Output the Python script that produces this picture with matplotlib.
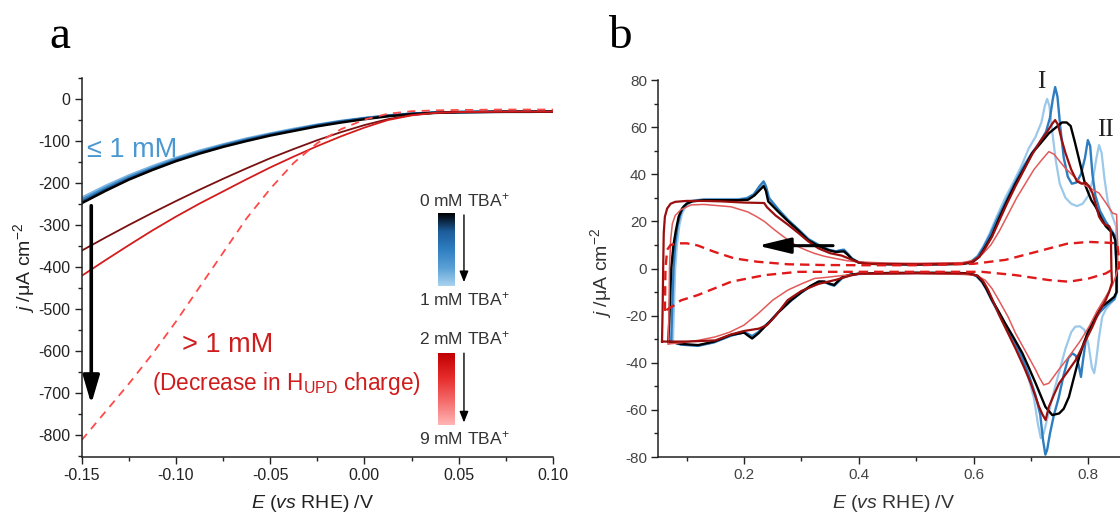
import numpy as np
import matplotlib
matplotlib.use("Agg")
import matplotlib.pyplot as plt
from matplotlib.colors import LinearSegmentedColormap
from matplotlib.ticker import MultipleLocator

plt.rcParams['font.family'] = ['Liberation Sans', 'DejaVu Sans']
plt.rcParams['mathtext.fontset'] = 'custom'
plt.rcParams['mathtext.rm'] = 'Liberation Sans'
plt.rcParams['mathtext.it'] = 'Liberation Sans:italic'
plt.rcParams['axes.unicode_minus'] = False

# ---------------- Panel a data (LSV) ----------------
E_a = [-0.15, -0.1375, -0.125, -0.1125, -0.10, -0.0875, -0.075, -0.0625, -0.05, -0.0375,
       -0.025, -0.0125, 0.0, 0.0125, 0.025, 0.0375, 0.05, 0.0625, 0.075, 0.0875, 0.10]
j_0mM = [-248, -219, -192, -169, -148, -130, -114, -100, -87, -76, -65, -56, -48, -41, -36, -33, -31.5, -31, -30.5, -30.5, -30]
j_01mM = [-245, -216, -190, -167, -146, -128, -112, -98, -85, -74, -63, -54, -46, -40, -35, -32.5, -31, -30.5, -30, -30, -30]
j_05mM = [-240, -212, -186, -164, -143, -126, -110, -96, -84, -73, -62, -53, -46, -39.5, -35, -32, -31, -30.5, -30, -30, -30]
j_1mM = [-235, -207, -182, -160, -140, -123, -108, -94, -82, -71, -61, -52, -45, -39, -34.5, -32, -31, -30.5, -30, -30, -29.5]
j_2mM = [-361, -330, -300, -271, -243, -216, -190, -165, -141, -119, -98, -79, -62, -48, -38, -33, -31, -30.5, -30, -30, -30]
j_5mM = [-421, -384, -348, -313, -280, -249, -220, -191, -163, -137, -112, -89, -68, -50, -39, -33, -31, -30.5, -30, -30, -30]
j_9mM = [-812, -745, -678, -607, -530, -448, -366, -284, -214, -152, -105, -72, -49, -35, -29, -27, -26, -25.5, -25, -25, -25]

# ---------------- Panel b data (CV) ----------------
E_b0 = [0.068, 0.070, 0.073, 0.077, 0.081, 0.086, 0.092, 0.100, 0.110, 0.13, 0.16, 0.19, 0.207, 0.218, 0.228, 0.234, 0.238,
        0.242, 0.26, 0.277, 0.295, 0.312, 0.33, 0.347, 0.36, 0.368, 0.374, 0.38, 0.388, 0.40, 0.42, 0.45, 0.50, 0.55, 0.58,
        0.597, 0.61, 0.62, 0.632, 0.644, 0.658, 0.673, 0.688, 0.702, 0.716, 0.731, 0.744, 0.754, 0.762, 0.769, 0.776, 0.784,
        0.795, 0.805, 0.813, 0.822, 0.830, 0.842, 0.847, 0.849, 0.849,
        0.845, 0.835, 0.824, 0.812, 0.801, 0.792, 0.784, 0.775, 0.766, 0.757, 0.749, 0.737, 0.725, 0.708, 0.696, 0.685, 0.670,
        0.655, 0.643, 0.632, 0.622, 0.615, 0.605, 0.59, 0.55, 0.50, 0.45, 0.40, 0.385, 0.372, 0.365, 0.357, 0.35, 0.34, 0.33,
        0.315, 0.30, 0.282, 0.26, 0.245, 0.236, 0.225, 0.214, 0.207, 0.20, 0.177, 0.148, 0.12, 0.09, 0.068]
j_b0 = [-31, -20, 0, 10, 16, 22, 25.5, 27.5, 28.5, 29, 29, 29, 29.2, 31, 33.5, 35, 33,
        28.5, 24, 20, 16, 12, 9.5, 7.8, 7, 7.2, 7.3, 6, 4, 2.5, 2, 1.8, 1.7, 1.8, 2,
        2.5, 5, 9, 14, 21, 28.5, 36, 42.5, 49, 53, 57.4, 60, 62, 62, 60.5, 54, 46,
        35, 29, 26, 21.5, 18, 15, 12, 0, -10,
        -12, -14, -16, -20.5, -26, -31.5, -37.5, -46, -54.5, -59.5, -61.5, -62.2, -58.7, -48.7, -42, -36, -29.5,
        -23.3, -18, -13.4, -8.5, -5.6, -3, -2, -1.8, -1.8, -1.9, -2.2, -2.6, -3.5, -5, -7, -6.5, -5.5, -5.5,
        -7.5, -10, -13.4, -18.5, -22.5, -24.7, -27.5, -29.7, -28.5, -27.2, -28.2, -31, -32.5, -32, -31]

E_b1 = [0.073, 0.075, 0.077, 0.080, 0.084, 0.089, 0.095, 0.105, 0.13, 0.16, 0.19, 0.205, 0.217, 0.227, 0.234, 0.238, 0.243,
        0.26, 0.277, 0.295, 0.312, 0.33, 0.347, 0.36, 0.368, 0.374, 0.38, 0.388, 0.40, 0.42, 0.5, 0.58, 0.595, 0.607, 0.617,
        0.628, 0.64, 0.655, 0.67, 0.685, 0.70, 0.715, 0.726, 0.733, 0.738, 0.742, 0.746, 0.751, 0.757, 0.764, 0.771, 0.779,
        0.787, 0.794, 0.799, 0.803, 0.807, 0.812, 0.82, 0.83, 0.838, 0.846, 0.849, 0.849,
        0.845, 0.832, 0.82, 0.81, 0.80, 0.795, 0.79, 0.787, 0.783, 0.778, 0.772, 0.765, 0.757, 0.748, 0.74, 0.733, 0.728,
        0.725, 0.721, 0.716, 0.708, 0.696, 0.685, 0.670, 0.655, 0.643, 0.632, 0.622, 0.615, 0.605, 0.59, 0.50, 0.40, 0.385,
        0.372, 0.365, 0.357, 0.35, 0.34, 0.33, 0.315, 0.30, 0.282, 0.26, 0.245, 0.236, 0.225, 0.214, 0.207, 0.20, 0.177,
        0.148, 0.12, 0.09, 0.073]
j_b1 = [-31, -15, 0, 10, 18, 23, 26.5, 28.5, 29.2, 29.2, 29.2, 29.8, 31.5, 35, 37, 35, 30,
        25, 20.5, 16.5, 12.5, 10, 8, 7.3, 7.8, 8, 6.5, 4.2, 2.6, 2, 1.8, 2, 2.8, 5, 9,
        14, 20.5, 28, 35.5, 42.5, 48.5, 53.5, 58, 64, 72, 77, 73, 60, 47, 39, 36, 36.5,
        40, 47, 54.5, 52, 40, 31, 24.5, 20, 17, 14, 0, -10,
        -13, -15.5, -18.5, -22, -26, -31, -40, -46, -41, -37, -36, -38, -45, -55, -62, -70, -77,
        -79, -73, -62, -54, -45, -38, -30.5, -24, -18.5, -13.5, -8.5, -5.5, -3, -2.1, -1.9, -2.3, -2.7,
        -3.8, -5.5, -7.3, -6.8, -5.8, -5.7, -7.7, -10.2, -13.6, -18.5, -22.5, -24.5, -27, -28.8, -27.8, -27, -28.5,
        -31.3, -32.8, -32.3, -31]

E_b2 = [0.076, 0.078, 0.080, 0.083, 0.087, 0.092, 0.10, 0.11, 0.13, 0.19, 0.205, 0.217, 0.227, 0.234, 0.239, 0.245,
        0.26, 0.277, 0.295, 0.312, 0.33, 0.347, 0.36, 0.37, 0.38, 0.39, 0.40, 0.42, 0.5, 0.58, 0.595, 0.607, 0.617, 0.628,
        0.64, 0.655, 0.67, 0.685, 0.696, 0.708, 0.718, 0.724, 0.728, 0.732, 0.737, 0.743, 0.75, 0.76, 0.77, 0.78, 0.79,
        0.80, 0.808, 0.814, 0.8185, 0.823, 0.828, 0.834, 0.842, 0.848, 0.850, 0.850,
        0.846, 0.838, 0.83, 0.824, 0.818, 0.813, 0.81, 0.806, 0.80, 0.793, 0.785, 0.777, 0.77, 0.76, 0.75, 0.74, 0.73,
        0.722, 0.717, 0.712, 0.705, 0.695, 0.685, 0.670, 0.655, 0.643, 0.632, 0.622, 0.613, 0.603, 0.59, 0.50, 0.40,
        0.385, 0.372, 0.365, 0.357, 0.35, 0.34, 0.33, 0.315, 0.30, 0.282, 0.26, 0.245, 0.236, 0.225, 0.214, 0.207, 0.20,
        0.177, 0.148, 0.12, 0.09, 0.076]
j_b2 = [-31, -15, 0, 10, 18, 23.5, 27, 28.8, 29.5, 29.5, 30, 31.5, 34.5, 36, 34, 29.5,
        25, 20.5, 16.5, 12.5, 10, 8, 7.2, 7.5, 6.2, 4, 2.6, 2, 1.8, 2, 3, 5.5, 9.5, 15,
        22, 30, 37, 44.5, 51, 56, 62, 69, 72, 69, 58, 46, 36, 30, 27.5, 26.5, 27.5,
        31, 38, 47, 52.4, 49, 38, 28, 22, 18, 0, -10,
        -13, -15, -17.5, -20.5, -30, -40, -44.4, -42, -32, -26, -24.5, -24.7, -27, -34, -43, -52, -62,
        -70, -72, -66, -55, -46, -39, -31, -24.5, -19, -14, -9, -5.5, -3, -2.1, -1.9, -2.3,
        -2.7, -3.8, -5.3, -6.8, -6.5, -5.7, -5.6, -7.6, -10, -13.5, -18.5, -22.3, -24.3, -26.8, -28.5, -27.8, -27,
        -28.5, -31.3, -32.8, -32.3, -31]

E_b3 = [0.057, 0.058, 0.059, 0.060, 0.062, 0.066, 0.072, 0.08, 0.10, 0.13, 0.16, 0.20, 0.235, 0.24, 0.255, 0.277, 0.295,
        0.312, 0.33, 0.35, 0.37, 0.385, 0.40, 0.42, 0.5, 0.58, 0.597, 0.61, 0.62, 0.632, 0.644, 0.658, 0.673, 0.688, 0.702,
        0.716, 0.728, 0.737, 0.742, 0.747, 0.753, 0.76, 0.77, 0.78, 0.788, 0.795, 0.801, 0.807, 0.813, 0.8185, 0.825, 0.83,
        0.836, 0.839, 0.840, 0.841,
        0.836, 0.83, 0.818, 0.807, 0.793, 0.778, 0.763, 0.749, 0.74, 0.731, 0.7254, 0.72, 0.714, 0.70, 0.688, 0.673, 0.658,
        0.645, 0.635, 0.625, 0.617, 0.607, 0.59, 0.50, 0.40, 0.385, 0.36, 0.33, 0.30, 0.276, 0.255, 0.24, 0.226, 0.20,
        0.177, 0.15, 0.10, 0.057]
j_b3 = [-31, -18, 0, 15, 22, 25.5, 27.5, 28.3, 28.7, 28.7, 28.5, 28, 27.8, 26, 22.5, 18.5, 15,
        11.5, 8.5, 6.5, 5.5, 4, 2.5, 2, 1.8, 2, 2.8, 5, 8.5, 13.5, 20, 27.5, 35, 42, 48.5,
        54, 58, 61.5, 63, 61, 55, 49, 42, 37, 36, 36.5, 35, 32, 27, 22, 19.5, 18.5,
        18, 16, 0, -6,
        -10, -13.4, -18.5, -24.7, -31.5, -38.8, -44, -48.7, -53.5, -58.7, -64.3, -62, -58.7, -49, -42, -34, -26.5,
        -20, -14.5, -9, -5.5, -3, -2.1, -1.9, -2.2, -3, -4.8, -6.5, -9.5, -13.4, -20, -24, -25.5, -26.5,
        -28, -30.5, -31, -31]

E_b4 = [0.068, 0.069, 0.070, 0.072, 0.075, 0.08, 0.09, 0.1075, 0.13, 0.1775, 0.2067, 0.222, 0.2358, 0.25, 0.265, 0.28,
        0.294, 0.31, 0.323, 0.34, 0.358, 0.38, 0.40, 0.45, 0.5, 0.58, 0.60, 0.615, 0.63, 0.645, 0.66, 0.675, 0.69, 0.705,
        0.72, 0.731, 0.74, 0.75, 0.76, 0.775, 0.789, 0.80, 0.8185, 0.83, 0.842, 0.849, 0.851, 0.851,
        0.848, 0.842, 0.83, 0.815, 0.801, 0.785, 0.766, 0.748, 0.731, 0.722, 0.715, 0.708, 0.69, 0.673, 0.66, 0.6437,
        0.632, 0.62, 0.605, 0.583, 0.50, 0.40, 0.37, 0.345, 0.323, 0.30, 0.2766, 0.25, 0.225, 0.20, 0.175, 0.15, 0.12,
        0.09, 0.068]
j_b4 = [-32, -20, 0, 12, 19, 22.5, 25, 27, 27.2, 26.2, 24, 22, 19.9, 17, 14.2, 11.5,
        9.3, 7.6, 6.4, 5.2, 4.3, 3.3, 2.8, 2.3, 2.2, 2.5, 3.5, 6, 10, 16, 23, 30, 36, 42,
        46.5, 49.6, 48.5, 45.5, 42.5, 39, 36, 34.5, 32, 28, 23.5, 23, 10, 0,
        -3, -7, -12, -18, -24.7, -31, -37.4, -43, -48.7, -49.4, -46.5, -43, -35, -27.5, -20.5, -13.4,
        -8.5, -4.9, -3, -2.5, -2.2, -2.4, -3, -3.7, -4.2, -6.5, -9.1, -13.4, -19, -24, -27, -29, -30.5,
        -31.5, -32]

E_b5 = [0.062, 0.063, 0.066, 0.072, 0.0843, 0.10, 0.119, 0.148, 0.183, 0.2224, 0.2766, 0.335, 0.40, 0.5, 0.6, 0.656,
        0.70, 0.731, 0.7625, 0.80, 0.83, 0.85, 0.853,
        0.853, 0.845, 0.83, 0.801, 0.766, 0.731, 0.673, 0.6146, 0.5, 0.40, 0.294, 0.236, 0.1775, 0.119, 0.09, 0.0755, 0.062]
j_b5 = [-18, 0, 8, 10, 10.7, 10.7, 9.8, 7.1, 4.3, 2.9, 1.8, 1.5, 1.4, 1.4, 2, 3.7,
        6.5, 8.5, 10.5, 11.3, 11, 10.7, 5,
        0, 0, -2.1, -4.2, -5.6, -4.9, -2.8, -1.4, -1.4, -1.4, -1.4, -2.8, -5.6, -11.3, -13.5, -16, -18]

xticks_a = [-0.15, -0.10, -0.05, 0.00, 0.05, 0.10]
yticks_a = [0, -100, -200, -300, -400, -500, -600, -700, -800]
xticks_b = [0.2, 0.4, 0.6, 0.8]
yticks_b = [-80, -60, -40, -20, 0, 20, 40, 60, 80]

# ---------------- Figure ----------------
fig = plt.figure(figsize=(11.2, 5.16), dpi=100)

def style_axes(ax, color='black', lab='black', ls=11.5):
    for s in ['top', 'right']:
        ax.spines[s].set_visible(False)
    for s in ['left', 'bottom']:
        ax.spines[s].set_linewidth(1.1)
        ax.spines[s].set_color(color)
    ax.tick_params(which='major', direction='out', length=5, width=1.0, labelsize=ls,
                   pad=3, colors=color, labelcolor=lab)
    ax.tick_params(which='minor', direction='out', length=2.6, width=1.0, colors=color)

# Panel a
ax1 = fig.add_axes([0.0729, 0.1153, 0.4208, 0.7335])
style_axes(ax1, '#222222', '#222222', 11.5)
blues = ['#000000', '#1d5a93', '#3a88c8', '#7db5e0']
for jj, c in zip([j_1mM, j_05mM, j_01mM, j_0mM], blues[::-1]):
    ax1.plot(E_a, jj, color=c, lw=1.8, solid_capstyle='round')
ax1.plot(E_a, j_2mM, color='#7a1010', lw=1.3)
ax1.plot(E_a, j_5mM, color='#d41c1c', lw=1.3)
ax1.plot(E_a, j_9mM, color='#ff4a4a', lw=1.3, dashes=(4.5, 3.5))

# gradient bars
grad = np.linspace(0, 1, 256).reshape(-1, 1)
cmap_b = LinearSegmentedColormap.from_list('bl', ['#000000', '#1c5c9a', '#2f7fc1', '#5aa0d6', '#a9d3ef'])
cmap_r = LinearSegmentedColormap.from_list('rd', ['#c00000', '#e62a2a', '#f56b6b', '#ffb5b5'])
ax1.imshow(grad, cmap=cmap_b, aspect='auto', extent=[0.0392, 0.0477, -445, -273], origin='upper', zorder=3)
ax1.imshow(grad, cmap=cmap_r, aspect='auto', extent=[0.0392, 0.0477, -776, -605], origin='upper', zorder=3)
for y0, y1 in [(-276, -436), (-605, -770)]:
    ax1.annotate('', xy=(0.0528, y1), xytext=(0.0528, y0),
                 arrowprops=dict(arrowstyle='-|>,head_length=0.55,head_width=0.22', lw=1.0,
                                 color='black', mutation_scale=12, shrinkA=0, shrinkB=0))
for txt, yy in [('0 mM TBA$^{+}$', -240), ('1 mM TBA$^{+}$', -477), ('2 mM TBA$^{+}$', -570), ('9 mM TBA$^{+}$', -808)]:
    ax1.text(0.0528, yy, txt, ha='center', va='center', fontsize=12.5, color='#333333')

ax1.text(-0.147, -121, '≤ 1 mM', color='#4a98d2', fontsize=19.5, ha='left', va='center')
ax1.text(-0.0968, -585, '> 1 mM', color='#d01c1c', fontsize=19.5, ha='left', va='center')
ax1.text(-0.1129, -677, r'(Decrease in H$_\mathregular{UPD}$ charge)', color='#d01c1c', fontsize=16.3,
         ha='left', va='center')
ax1.annotate('', xy=(-0.1449, -726), xytext=(-0.1449, -254),
             arrowprops=dict(arrowstyle='-|>,head_length=0.85,head_width=0.25', lw=2.6,
                             color='black', mutation_scale=20, shrinkA=0, shrinkB=0))

ax1.set_xlim(-0.15, 0.10)
ax1.set_ylim(-851, 50)
ax1.set_xticks(xticks_a)
ax1.set_xticklabels(['%.2f' % v for v in xticks_a])
ax1.set_yticks(yticks_a)
ax1.xaxis.set_minor_locator(MultipleLocator(0.025))
ax1.yaxis.set_minor_locator(MultipleLocator(50))
ax1.set_xlabel(r'$\mathit{E}$ ($\mathit{vs}$ RHE) /V', fontsize=14, color='#222222', va='center')
ax1.set_ylabel(r'$\mathit{j}$ /μA cm$^{-2}$', fontsize=14, color='#222222', va='center')
ax1.xaxis.set_label_coords(0.49, -0.123)
ax1.yaxis.set_label_coords(-0.123, 0.498)

# Panel b
ax2 = fig.add_axes([0.5875, 0.1143, 0.4125, 0.7306])
style_axes(ax2, '#222222', '#444444', 11)
ax2.plot(E_b2, j_b2, color='#9cc9ea', lw=1.6, zorder=2)
ax2.plot(E_b1, j_b1, color='#2d7dc0', lw=1.7, zorder=3)
ax2.plot(E_b0, j_b0, color='#000000', lw=1.7, zorder=4)
ax2.plot(E_b4, j_b4, color='#e25a5a', lw=1.1, zorder=5)
ax2.plot(E_b3, j_b3, color='#9a0e0e', lw=1.6, zorder=6)
ax2.plot(E_b5, j_b5, color='#e01a1a', lw=1.7, dashes=(4, 2.5), zorder=7)

ax2.annotate('', xy=(0.224, 9.7), xytext=(0.355, 9.7),
             arrowprops=dict(arrowstyle='-|>,head_length=1.0,head_width=0.24', lw=2.2,
                             color='black', mutation_scale=20, shrinkA=0, shrinkB=0), zorder=8)
ax2.text(0.718, 79, 'I', fontsize=18, family='Liberation Serif', color='#222222', ha='center', va='center')
ax2.text(0.830, 59, 'II', fontsize=18, family='Liberation Serif', color='#222222', ha='center', va='center')

ax2.set_xlim(0.05, 0.855)
ax2.set_ylim(-80, 80)
ax2.set_xticks(xticks_b)
ax2.set_xticklabels(['%.1f' % v for v in xticks_b])
ax2.set_yticks(yticks_b)
ax2.xaxis.set_minor_locator(MultipleLocator(0.1))
ax2.yaxis.set_minor_locator(MultipleLocator(10))
ax2.set_xlabel(r'$\mathit{E}$ ($\mathit{vs}$ RHE) /V', fontsize=14, color='#333333', va='center')
ax2.set_ylabel(r'$\mathit{j}$ /μA cm$^{-2}$', fontsize=14, color='#333333', va='center')
ax2.xaxis.set_label_coords(0.51, -0.122)
ax2.yaxis.set_label_coords(-0.123, 0.488)

fig.text(60 / 1120, 1 - 48 / 516, 'a', fontsize=34, family='Liberation Serif', ha='center', va='baseline')
fig.text(620 / 1120, 1 - 48 / 516, 'b', fontsize=34, family='Liberation Serif', ha='center', va='baseline')

fig.savefig('out.png', dpi=100)
